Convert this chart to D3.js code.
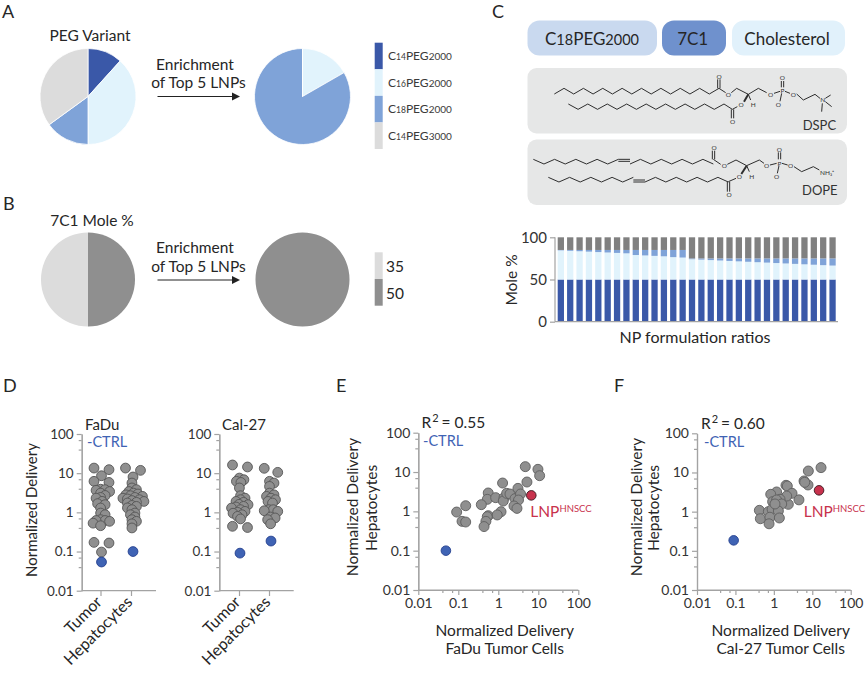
<!DOCTYPE html>
<html><head><meta charset="utf-8">
<script src="https://cdn.jsdelivr.net/npm/d3@7/dist/d3.min.js"></script>
<style>html,body{margin:0;padding:0;background:#fff}svg{display:block}text{font-family:Lato,"Open Sans",sans-serif;fill:#262626}</style>
</head><body><svg id="c" width="867" height="675"></svg>
<script>
// ---- data ----
const pegLabels=[["C","14","PEG","2000"],["C","16","PEG","2000"],["C","18","PEG","2000"],["C","14","PEG","3000"]];
const pegAll=[11.7,38.3,15,35];
const pegTop=[0,16.7,83.3,0];
const moleLabels=["35","50"];
const moleAll=[50,50];   // 50 then 35, clockwise from the top
const moleTop=[100];
const comp7C1=[50,50,50,50,50,50,50,50,50,50,50,50,50,50,50,50,50,50,50,50,50,50,50,50,50,50,50,50,50,50];
const compChol=[34.5,34,33.5,33,32.5,32,31.5,31,29,28.5,28,27.5,26.5,26,24,23.5,23,22.5,22,21.5,21,20.5,20,19.5,19,18.5,18,17.5,17,16.5];
const compC18=[.5,1,1.5,2,2.5,3,3.5,4,6,6.5,7,7.5,8.5,9,1,1.5,2,2.5,3,3.5,4,4.5,5,5.5,6,6.5,7,7.5,8,8.5];
const compLipid=[15,15,15,15,15,15,15,15,15,15,15,15,15,15,25,25,25,25,25,25,25,25,25,25,25,25,25,25,25,25];
const fadu={
 tumor:[13.5,12.3,8.6,6.2,5.8,3.9,3.8,3.65,3.4,3.1,2.7,2.4,2.3,1.91,1.67,1.57,1.29,.96,.87,.65,.62,.62,.59,.53,.456,.171,.165,.097],
 hep:[13.5,11.8,8,5.6,4.2,3.8,3.4,3.1,2.94,2.8,2.66,2.56,2.4,2.3,2.2,2.1,2,1.9,1.8,1.73,1.5,1.42,1.3,1.17,.96,.87,.76,.65,.59,.51,.4],
 ctrl:[.054,.1]};
const cal={
 tumor:[16.2,14.4,7.5,6.8,6.2,5.8,4.2,2.66,2.3,2.1,1.9,1.8,1.6,1.57,1.42,1.37,1.29,1.17,1.06,1,.95,.87,.79,.68,.44,.41],
 hep:[13.3,10.5,6.2,5.6,4.6,3.1,2.8,2.56,2.3,2.1,1.9,1.73,1.17,1.17,1.1,1.06,.76,.72,.65,.51],
 ctrl:[.091,.185]};
const faduX=[4.73,9.8,10.8,5.2,1.28,.56,.53,.376,.86,1.39,1.33,1.62,1.96,2.61,3.1,3.6,3.2,2.47,2.93,.091,.153,.124,.153,.56,.53,1.17,.94,.49,.44];
const faduY=[13.7,11.7,8.07,5.57,5.25,2.93,2.02,1.48,2.23,2.23,1.83,2.87,2.76,2.1,3.84,2.76,1.94,1.37,1.19,.96,1.39,.557,.536,.776,.73,.98,.81,.557,.41];
const calX=[16.9,7.9,6.1,7.75,6.35,2.07,2.24,1.18,.83,2.97,4.5,2.38,2.16,1.45,.93,1.18,1.6,.42,.72,.9,1.31,.445,.79,.75,1.39,1.07];
const calY=[13.3,10.9,6.07,4.8,5.6,4.7,4.5,3.18,2.77,2.94,2,1.54,2.5,2.07,1.8,1.99,1.57,1.08,1,1.15,1.04,.66,.72,.49,.69,1.57];
const faduLnp=[6.68,2.55], faduNeg=[.049,.1], calLnp=[15,3.5], calNeg=[.09,.185];
const logTicks=[.01,.1,1,10,100];
const logTickLabels=["0.01","0.1","1","10","100"];
const logMinor=[.04,.07,.4,.7,4,7,40,70];
const stripCats=["Tumor","Hepatocytes"];
const moleTicks=[0,50,100];
// ---- styles ----
const DARK="#3a58a8",LIGHT="#e1f3fc",MID="#7fa3d8",PALE="#dcdcdc",GREY="#8f8f8f",AX="#a3a3a3",RED="#c8324d",BLUE="#3f63b4";
const svg=d3.select("#c");
function T(g,x,y,s,size,o={}){const t=g.append("text").attr("x",x).attr("y",y).attr("font-size",size).text(s);
 if(o.a)t.attr("text-anchor",o.a); if(o.c)t.style("fill",o.c); if(o.r!=null)t.attr("transform",`rotate(${o.r} ${x} ${y})`); return t;}
const FS=15.5;
// panel letters
[["A",2,18],["B",3,210],["C",492,18],["D",3,392],["E",336,392],["F",614,392]].forEach(d=>T(svg,d[1],d[2],d[0],18));
// pies
function pie(cx,cy,r,vals,cols,sep){const p=d3.pie().sort(null)(vals);const a=d3.arc().innerRadius(0).outerRadius(r);
 svg.append("g").attr("transform",`translate(${cx},${cy})`).selectAll("path").data(p).join("path").attr("d",a).attr("fill",(d,i)=>cols[i]).attr("stroke",sep?"#fff":"none").attr("stroke-width",.8);}
const pegCols=[DARK,LIGHT,MID,PALE];
pie(88,96.5,48,pegAll,pegCols,true); pie(302.5,96.5,48,pegTop,pegCols,true);
pie(88,279.5,47,moleAll,["#8f8f8f","#dcdcdc"],false); pie(302.5,279.5,47,moleTop,["#8f8f8f"],false);
T(svg,90,41,"PEG Variant",FS,{a:"middle"}); T(svg,92,225.5,"7C1 Mole %",FS,{a:"middle"});
// arrows
[[96.5,70,88],[280,252.5,271.5]].forEach(d=>{
 T(svg,195,d[1],"Enrichment",FS,{a:"middle"}); T(svg,198.5,d[2],"of Top 5 LNPs",FS,{a:"middle"});
 svg.append("line").attr("x1",157.5).attr("x2",234).attr("y1",d[0]).attr("y2",d[0]).attr("stroke","#222").attr("stroke-width",1);
 svg.append("path").attr("d",`M232,${d[0]-4}L240,${d[0]}L232,${d[0]+4}Z`).attr("fill","#222");
});
// legends
const ly=d3.scaleBand().domain(d3.range(4)).range([42.7,149]);
pegLabels.forEach((l,i)=>{svg.append("rect").attr("x",374.7).attr("width",8).attr("y",ly(i)).attr("height",ly.bandwidth()).attr("fill",pegCols[i]);
 const t=svg.append("text").attr("x",388).attr("y",ly(i)+17.5).attr("font-size",12).style("fill","#3a3a3a");
 t.append("tspan").text(l[0]); t.append("tspan").attr("font-size",8.5).text(l[1]); t.append("tspan").text(l[2]); t.append("tspan").attr("font-size",10).text(l[3]);});
const ly2=d3.scaleBand().domain(moleLabels).range([252.3,305.7]);
moleLabels.forEach((l,i)=>{svg.append("rect").attr("x",374.7).attr("width",8).attr("y",ly2(l)).attr("height",ly2.bandwidth()).attr("fill",i?"#8f8f8f":"#dcdcdc");
 T(svg,386,ly2(l)+19.5,l,15.5);});
// pills
function box(x,y,w,h,r,f){svg.append("rect").attr("x",x).attr("y",y).attr("width",w).attr("height",h).attr("rx",r).attr("fill",f);}
box(527.5,20.5,129.5,35,12,"#c9d9ef");box(662,20.5,64,35,12,"#6f91cd");box(732,20.5,113,35,12,"#e1f1fb");
box(527.5,68,319.5,65.5,9,"#e6e7e7");box(527.5,139.5,319.5,65.5,9,"#e6e7e7");
{const t=svg.append("text").attr("x",592).attr("y",45).attr("text-anchor","middle").attr("font-size",17);
 t.append("tspan").text("C");t.append("tspan").attr("font-size",14.5).text("18");t.append("tspan").text("PEG");t.append("tspan").attr("font-size",14.5).text("2000");}
T(svg,692.7,45,"7C1",17,{a:"middle"});T(svg,787,45,"Cholesterol",17,{a:"middle"});
// lipid skeletons (drawn in a 3x zoom frame of the C panel)
const zx=d3.scaleLinear().domain([0,3]).range([520,521]), zy=d3.scaleLinear().domain([0,3]).range([0,1]);
const skel=svg.append("g").attr("fill","none").attr("stroke","#2e2e2e");
const ln=d3.line().x(d=>zx(d[0])).y(d=>zy(d[1]));
function poly(p,w){skel.append("path").attr("d",ln(p)).attr("stroke-width",w||1);}
function zig(x0,y0,x1,yb,n){const p=[];for(let i=0;i<=n;i++)p.push([x0+(x1-x0)*i/n,i%2?yb:y0]);return p;}
function atom(x,y,s,size,a){T(svg,zx(x),zy(y),s,size||6.5,{a:a||"middle",c:"#333"});}
// DSPC
poly(zig(103,282,597,265,17));poly(zig(145,312,612,328,16));
poly([[597,265],[617,278]]);poly([[634,278],[650,265],[685,283],[715,265],[740,278]]);
poly([[593,265],[593,238]]);poly([[600,265],[600,238]]);
poly([[612,312],[637,328],[652,320]]);poly([[634,328],[634,355]]);poly([[641,328],[641,355]]);
poly([[685,283],[672,305]],2);poly([[685,283],[692,300]]);
poly([[762,280],[780,274]]);poly([[795,274],[810,280]]);poly([[784,262],[784,243]]);poly([[791,262],[791,243]]);poly([[785,280],[780,304]]);
poly([[830,282],[850,300],[885,283],[900,295]]);poly([[916,295],[932,285]]);poly([[916,305],[935,320]]);poly([[907,310],[905,335]]);
[[597,236],[625,290],[663,322],[638,372],[752,290],[787,279],[787,241],[775,322],[820,290]].forEach((d,i)=>atom(d[0],d[1],i==5?"P":"O"));
atom(908,307,"N");atom(700,320,"H");T(svg,zx(848),zy(389),"DSPC",13,{c:"#333"});
// DOPE
poly(zig(40,478,295,492,8));poly([[295,478],[330,478]]);poly([[295,484],[330,484]]);poly(zig(330,478,580,492,8).map((d,i)=>[d[0],i%2?478:492]));
poly(zig(85,532,340,546,8));poly([[340,540],[375,540]]);poly([[340,546],[375,546]]);poly(zig(375,546,625,532,8));
poly([[580,478],[602,493]]);poly([[622,493],[648,480],[680,497],[718,480],[732,490]]);
poly([[577,478],[577,452]]);poly([[584,478],[584,452]]);
poly([[625,545],[648,535]]);poly([[622,545],[622,575]]);poly([[629,545],[629,575]]);
poly([[680,497],[664,522]],2);poly([[680,497],[688,515]]);
poly([[750,495],[770,490]]);poly([[786,490],[803,495]]);poly([[775,478],[775,457]]);poly([[782,478],[782,457]]);poly([[777,497],[772,520]]);
poly([[822,500],[845,515],[880,500],[898,510]]);
[[582,451],[613,505],[658,538],[627,592],[740,505],[778,497],[778,456],[770,537],[812,505]].forEach((d,i)=>atom(d[0],d[1],i==5?"P":"O"));
atom(695,538,"H");atom(900,524,"NH\u2083\u207a",6.5,"start");T(svg,zx(846),zy(586),"DOPE",13,{c:"#333"});
// stacked bars
const bx=d3.scaleBand().domain(d3.range(comp7C1.length)).range([557.7,835.7]).paddingInner(.33);
const by=d3.scaleLinear().domain([0,100]).range([321.7,237.3]);
const stack=d3.stack().keys([0,1,2,3]).value((i,k)=>[comp7C1,compChol,compC18,compLipid][k][i])(d3.range(comp7C1.length));
svg.append("g").selectAll("g").data(stack).join("g").attr("fill",(d,i)=>[DARK,LIGHT,MID,"#808080"][i])
 .selectAll("rect").data(d=>d).join("rect").attr("x",d=>bx(d.data)).attr("width",bx.bandwidth()).attr("y",d=>by(d[1])).attr("height",d=>by(d[0])-by(d[1]));
function style(g){g.selectAll("path,line").attr("stroke",AX).attr("stroke-width",1.2);g.selectAll("text").style("fill","#333");}
const ya=svg.append("g").attr("transform","translate(555,0)").call(d3.axisLeft(by).tickValues(moleTicks).tickSize(5).tickSizeOuter(0).tickPadding(3));
ya.call(style);ya.select(".domain").remove();ya.selectAll("text").attr("font-size",15).attr("font-family","Lato");
svg.append("line").attr("x1",555).attr("x2",555).attr("y1",237.3).attr("y2",321.7).attr("stroke",AX).attr("stroke-width",1.2);
svg.append("line").attr("x1",555).attr("x2",838).attr("y1",321.7).attr("y2",321.7).attr("stroke",AX).attr("stroke-width",1.2);
T(svg,517,280,"Mole %",15.5,{a:"middle",r:-90});
T(svg,695,343,"NP formulation ratios",16,{a:"middle"});
// log axes
function logY(x,y0,y1,xEnd,sc,fs){
 const g=svg.append("g").attr("transform",`translate(${x},0)`);
 g.call(d3.axisLeft(sc).tickValues(logTicks).tickFormat((d,i)=>logTickLabels[i]).tickSize(5).tickSizeOuter(0).tickPadding(3));
 g.append("g").call(d3.axisLeft(sc).tickValues(logMinor).tickFormat("").tickSize(3).tickSizeOuter(0));
 g.call(style);g.selectAll("text").attr("font-size",fs).attr("font-family","Lato");
 svg.append("line").attr("x1",x).attr("x2",xEnd).attr("y1",y0).attr("y2",y0).attr("stroke",AX).attr("stroke-width",1.2);
}
function dot(g,x,y,f,s,r){g.append("circle").attr("cx",x).attr("cy",y).attr("r",r||4.9).attr("fill",f).attr("stroke",s).attr("stroke-width",.9);}
// dodge: an isolated pair sits side by side, denser runs pile up; each run of close values is recentred
function swarm(vals,cx,sc,g){
 const ys=vals.map(v=>sc(v)),runs=[];
 ys.forEach(y=>{const r=runs[runs.length-1];if(r&&y-r[r.length-1]<5.5)r.push(y);else runs.push([y]);});
 runs.forEach(r=>{const need=r.length==2?14:3.9,placed=[];
  r.forEach(y=>{let k=0,x;do{x=(k%2?1:-1)*Math.ceil(k/2)*1.5;k++;}while(placed.some(p=>Math.hypot(p[0]-x,p[1]-y)<need)&&k<40);placed.push([x,y]);});
  const m=d3.mean(placed,p=>p[0]);placed.forEach(p=>dot(g,cx+p[0]-m,p[1],GREY,"#555"));});
}
function strip(x0,xEnd,cats,d,title,titleX){
 const y=d3.scaleLog().domain([.01,100]).range([590.7,434]);
 logY(x0,590.7,434,xEnd,y,13.5);
 const xs=d3.scaleOrdinal().domain(stripCats).range(cats);
 stripCats.forEach((c,i)=>{svg.append("line").attr("x1",xs(c)).attr("x2",xs(c)).attr("y1",590.7).attr("y2",596).attr("stroke",AX).attr("stroke-width",1.2);
  T(svg,xs(c)+2,603,c,16,{a:"end",r:-45});
  const g=svg.append("g");swarm(i?d.hep:d.tumor,xs(c)+(i?1.5:.5),y,g);dot(g,xs(c)+(i?1.5:.5),y(d.ctrl[i]),BLUE,"#24408f");});
 T(svg,titleX,430,title,15);
}
strip(81.7,156,[101,131.5],fadu,"FaDu",85);
strip(219.3,293.7,[239.5,269.5],cal,"Cal-27",222);
T(svg,87,446.5,"-CTRL",14.5,{c:BLUE});
T(svg,37,510,"Normalized Delivery",15,{a:"middle",r:-90});
function scatter(o){
 const x=d3.scaleLog().domain([.01,100]).range([o.x0,o.x1]),y=d3.scaleLog().domain([.01,100]).range([590,o.yt]);
 logY(o.x0,590,o.yt,o.x1,y,14);
 const g=svg.append("g").attr("transform","translate(0,590)");
 g.call(d3.axisBottom(x).tickValues(logTicks).tickFormat((d,i)=>logTickLabels[i]).tickSize(5).tickSizeOuter(0).tickPadding(3));
 g.append("g").call(d3.axisBottom(x).tickValues(logMinor).tickFormat("").tickSize(3).tickSizeOuter(0));
 g.call(style);g.selectAll("text").attr("font-size",14).attr("font-family","Lato");
 const p=svg.append("g");o.xs.forEach((v,i)=>dot(p,x(v),y(o.ys[i]),GREY,"#5f5f5f",5));
 dot(p,x(o.neg[0]),y(o.neg[1]),BLUE,"#24408f",4.8);dot(p,x(o.lnp[0]),y(o.lnp[1]),RED,"#3a1a20",4.8);
 const r=T(svg,o.rx,o.ry,"R",15.5);r.append("tspan").attr("font-size",11).attr("dy",-6).attr("dx",1).text("2");r.append("tspan").attr("dy",6).attr("dx",3).text("= "+o.r2);
 T(svg,o.cx,o.cy,"-CTRL",14.5,{c:BLUE});
 T(svg,o.t1,507,"Normalized Delivery",FS,{a:"middle",r:-90});T(svg,o.t2,508,"Hepatocytes",FS,{a:"middle",r:-90});
 T(svg,o.tc,635.7,"Normalized Delivery",FS,{a:"middle"});T(svg,o.tc,654,o.xt,FS,{a:"middle"});
 const l=T(svg,o.lx,o.ly,"LNP",15.5,{c:RED});l.append("tspan").attr("font-size",9.5).attr("dy",-5).style("fill",RED).text("HNSCC");
}
scatter({x0:418.3,x1:578.3,yt:432.7,xs:faduX,ys:faduY,neg:faduNeg,lnp:faduLnp,r2:"0.55",rx:421.5,ry:428,cx:423,cy:446,t1:358,t2:376.5,tc:504.7,xt:"FaDu Tumor Cells",lx:530.3,ly:517});
scatter({x0:697,x1:850.7,yt:433.3,xs:calX,ys:calY,neg:calNeg,lnp:calLnp,r2:"0.60",rx:701,ry:429,cx:704,cy:447,t1:642.3,t2:659.3,tc:780.7,xt:"Cal-27 Tumor Cells",lx:803.7,ly:517});
</script></body></html>
